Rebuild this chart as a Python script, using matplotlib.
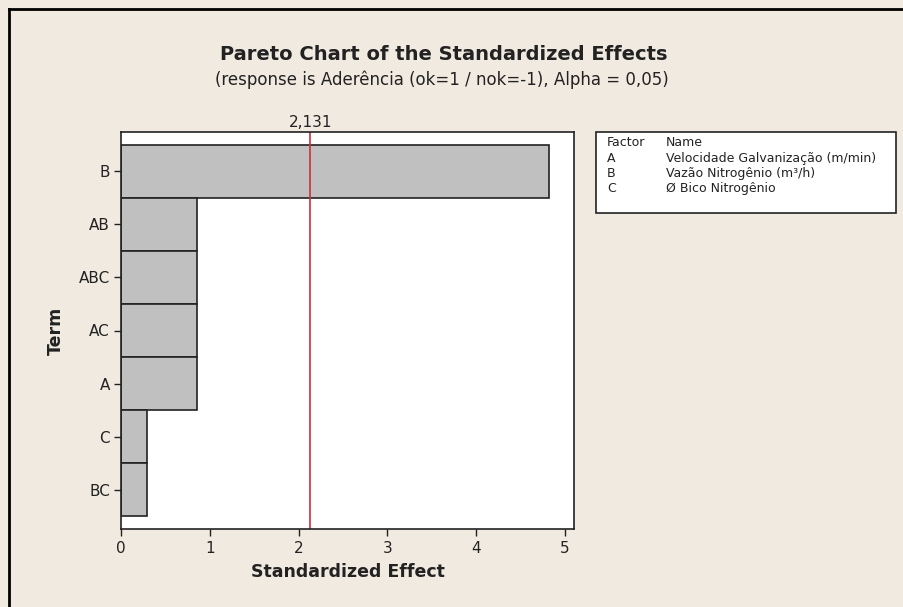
import matplotlib
matplotlib.use("Agg")
import matplotlib.pyplot as plt
from matplotlib.patches import Rectangle
from matplotlib.lines import Line2D

# Pareto of standardized effects, sorted largest first
terms = ["B", "AB", "ABC", "AC", "A", "C", "BC"]
effects = [4.82, 0.856, 0.856, 0.856, 0.856, 0.29, 0.29]
t_crit = 2.131
x_ticks = [0, 1, 2, 3, 4, 5]

factor_codes = ["A", "B", "C"]
factor_names = ["Velocidade Galvanização (m/min)",
                "Vazão Nitrogênio (m³/h)",
                "Ø Bico Nitrogênio"]

bg = "#f1eae0"
plt.rcParams["font.family"] = ["DejaVu Sans"]

fig = plt.figure(figsize=(9.04, 6.07), dpi=100, facecolor=bg)
W, H = 904, 607

def fx(px):
    return px / W

def fy(py):
    return 1 - py / H

ax = fig.add_axes([fx(121), fy(529), fx(574) - fx(121), fy(132) - fy(529)])
ax.set_facecolor("white")

ypos = list(range(len(terms)))
ax.barh(ypos, effects, height=1.0, color="#c0c0c0", edgecolor="#222222", linewidth=1.2)
ax.axvline(t_crit, color="#c8313a", linewidth=1.2)
ax.text(t_crit, 1.005, f"{t_crit:.3f}".replace(".", ","), transform=ax.get_xaxis_transform(),
        ha="center", va="bottom", fontsize=11, color="#222222")

ax.set_xlim(0, 5.1)
ax.set_ylim(6.74, -0.74)
ax.set_yticks(ypos)
ax.set_yticklabels(terms)
ax.set_xticks(x_ticks)
ax.tick_params(axis="both", length=5, width=1, labelsize=11, colors="#222222")
ax.tick_params(axis="y", pad=3)
for s in ax.spines.values():
    s.set_linewidth(1.2)
    s.set_color("#222222")

ax.set_xlabel("Standardized Effect", fontsize=12.5, fontweight="bold", color="#222222", labelpad=5)
ax.set_ylabel("Term", fontsize=12.5, fontweight="bold", color="#222222", labelpad=10)

fig.text(fx(444), fy(55), "Pareto Chart of the Standardized Effects",
         ha="center", va="center", fontsize=14, fontweight="bold", color="#222222")
fig.text(fx(442), fy(80),
         "(response is Aderência (ok=1 / nok=-1), Alpha = 0,05)",
         ha="center", va="center", fontsize=12, color="#222222")

# factor table box
fig.patches.append(Rectangle((fx(596), fy(213)), fx(896) - fx(596), fy(132) - fy(213),
                             transform=fig.transFigure, facecolor="white",
                             edgecolor="#222222", linewidth=1.2))
rows = [("Factor", "Name")] + list(zip(factor_codes, factor_names))
for i, (code, name) in enumerate(rows):
    y = fy(143 + i * 15.3)
    fig.text(fx(607), y, code, ha="left", va="center", fontsize=9, color="#222222")
    fig.text(fx(666), y, name, ha="left", va="center", fontsize=9, color="#222222")

# outer frame on the top and left edges
fig.lines.append(Line2D([fx(9), 1], [fy(9), fy(9)], transform=fig.transFigure,
                        color="black", linewidth=2))
fig.lines.append(Line2D([fx(9), fx(9)], [0, fy(9)], transform=fig.transFigure,
                        color="black", linewidth=2))

fig.savefig("out.png", dpi=100, facecolor=bg)
